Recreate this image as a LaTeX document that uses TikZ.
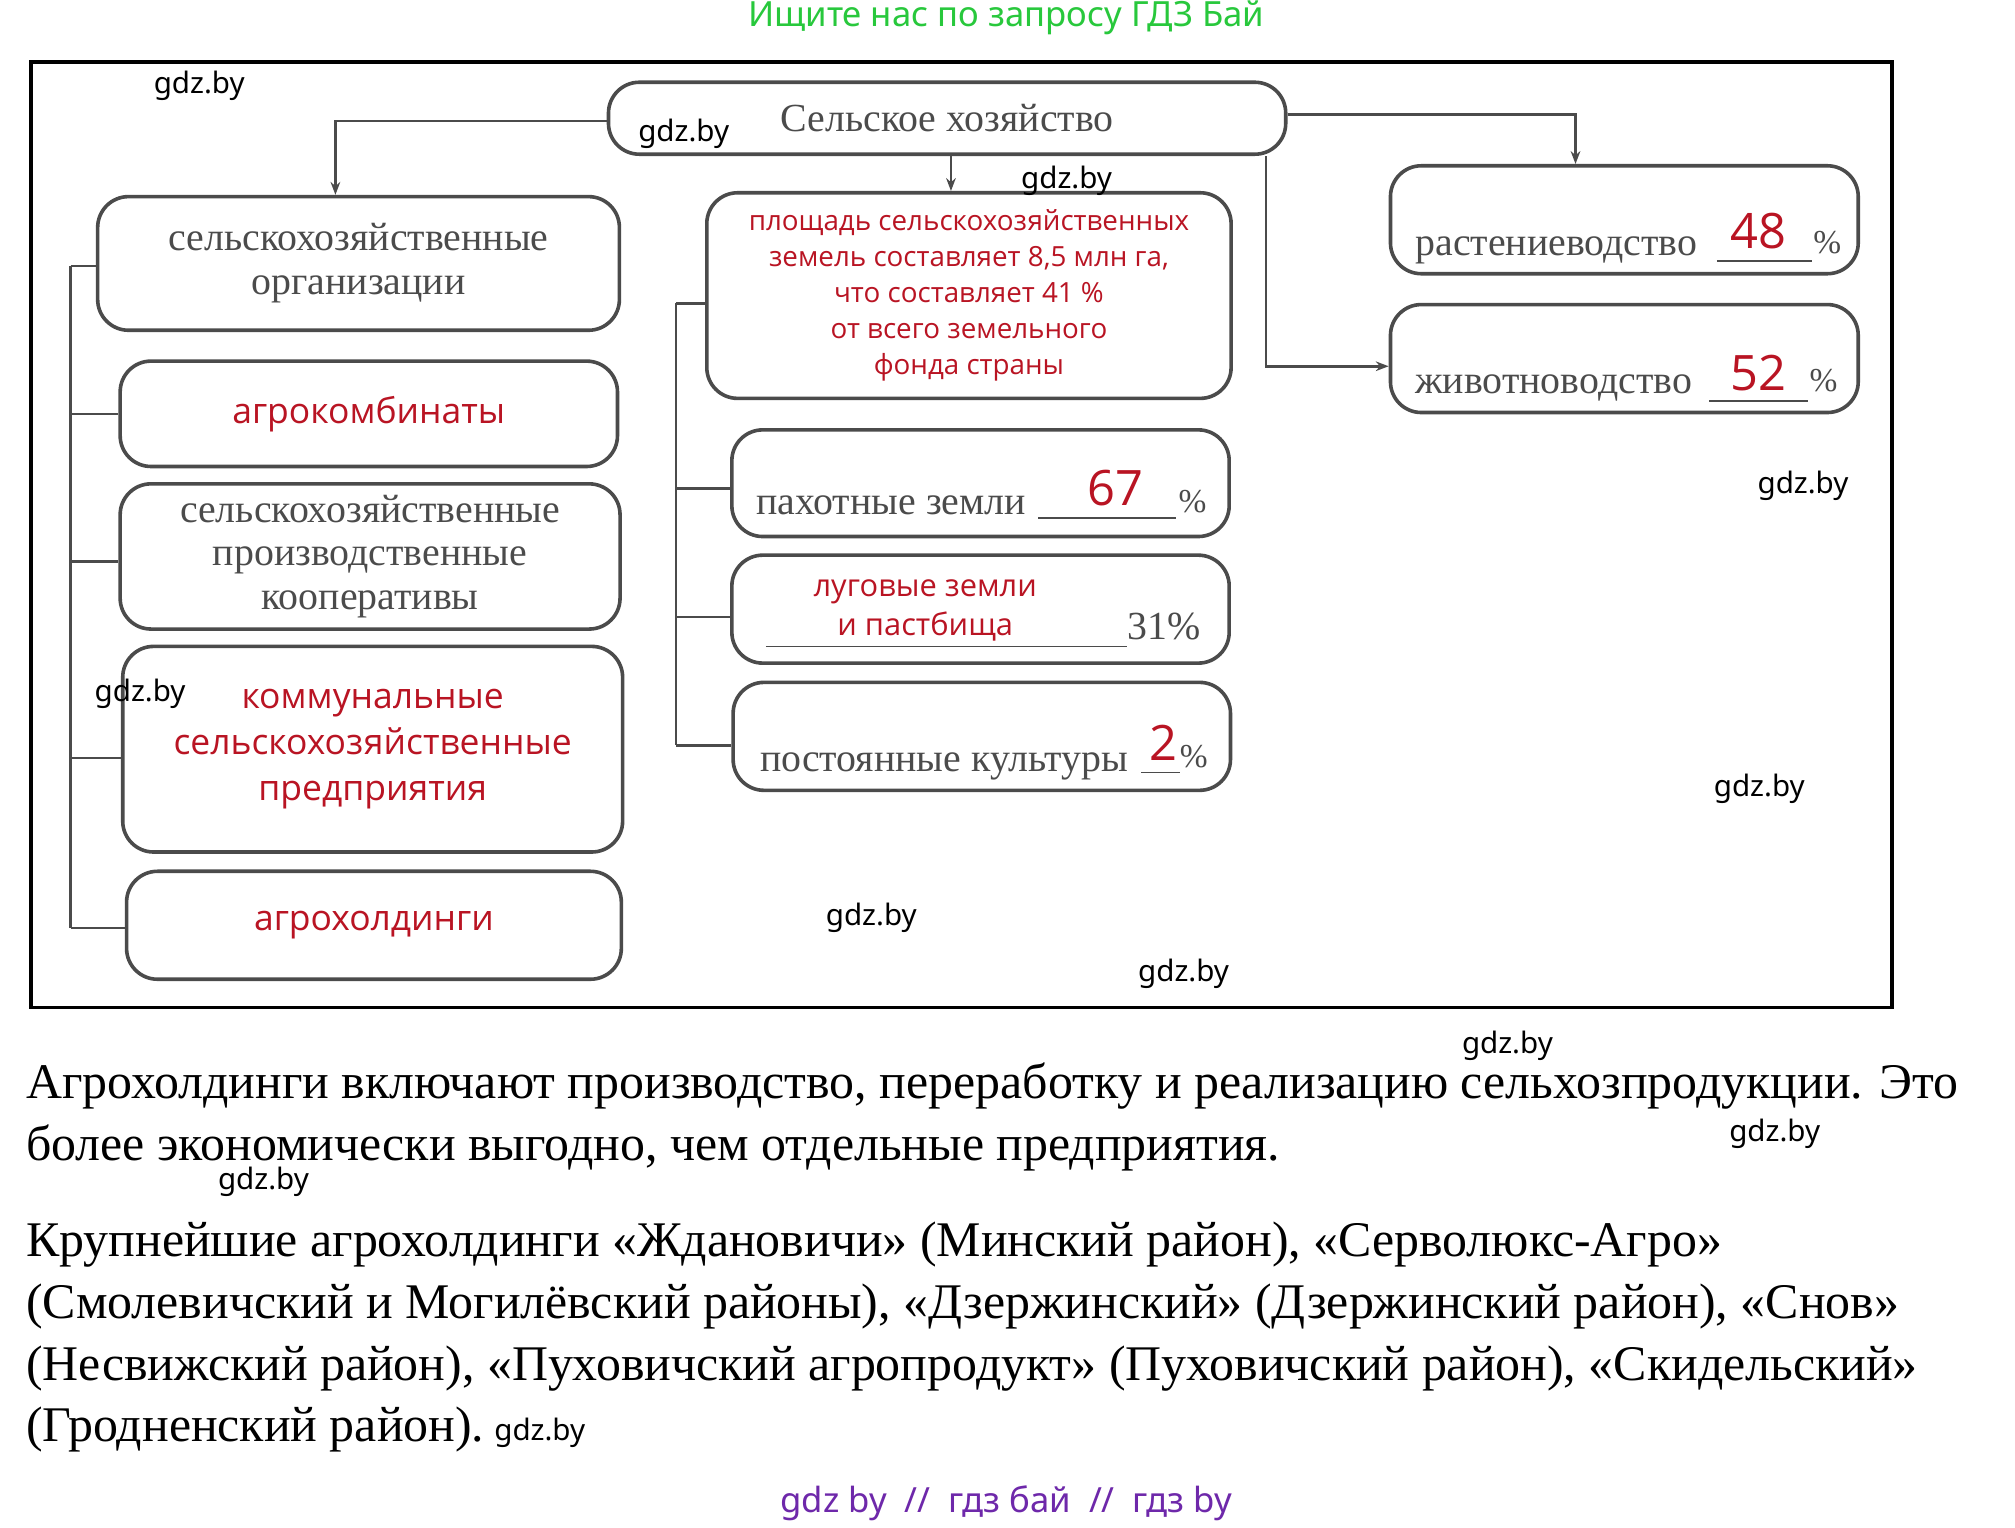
\documentclass[tikz,border=0pt]{standalone}
\usepackage{fontspec}
\setmainfont{Liberation Serif}
\newfontfamily\redsans{Open Sans}
\newfontfamily\wmsans{Noto Sans}
\usetikzlibrary{arrows.meta}
\definecolor{boxred}{RGB}{185,20,35}
\definecolor{boxgray}{RGB}{75,75,75}
\definecolor{wmgreen}{RGB}{40,200,60}
\definecolor{wmpurple}{RGB}{110,40,170}
\tikzset{
  box/.style={draw=boxgray, line width=1.4pt, rounded corners=12pt, inner sep=0pt},
  graytxt/.style={text=boxgray, font=\fontsize{15.5}{17}\selectfont, align=center},
  redtxt/.style={text=boxred, font=\redsans\fontsize{13.8}{18}\selectfont, align=center},
  num/.style={text=boxred, font=\redsans\fontsize{19}{20}\selectfont},
  pct/.style={text=boxgray, font=\fontsize{13}{14}\selectfont},
  link/.style={draw=boxgray, line width=1pt},
  wm/.style={font=\wmsans\fontsize{11.5}{12}\selectfont},
  body/.style={anchor=base west, inner sep=0pt, font=\fontsize{19.4}{22}\selectfont}
}
\begin{document}
\begin{tikzpicture}[x=0.5pt, y=-0.5pt]
\useasboundingbox (0,0) rectangle (1568,1189);
\fill[white] (0,0) rectangle (1568,1189);
\draw[line width=1.5pt] (24,48) rectangle (1472,784);

% top box
\node[box, minimum width=263.5pt, minimum height=28pt, graytxt] (top) at (737,92) {Сельское хозяйство};

% left column
\node[box, minimum width=203pt, minimum height=52pt, graytxt] (org) at (279,205) {сельскохозяйственные\\организации};
\node[box, minimum width=193.5pt, minimum height=41pt, redtxt] (akomb) at (287,322) {агрокомбинаты};
\node[box, minimum width=194.5pt, minimum height=56.5pt, graytxt] (coop) at (288,433) {сельскохозяйственные\\производственные\\кооперативы};
\node[box, minimum width=194.5pt, minimum height=80pt, redtxt] (komm) at (290,583) {коммунальные\\сельскохозяйственные\\предприятия};
\node[box, minimum width=192.5pt, minimum height=42pt, redtxt] (ahold) at (291,720) {агрохолдинги};

% middle column
\node[box, minimum width=204pt, minimum height=80pt, redtxt, font=\redsans\fontsize{10.8}{14}\selectfont] (area) at (754,230) {площадь сельскохозяйственных\\земель составляет 8,5 млн га,\\что составляет 41 \%\\от всего земельного\\фонда страны};
\node[box, minimum width=193.5pt, minimum height=41.5pt] (pash) at (763,376) {};
\node[box, minimum width=193.5pt, minimum height=42pt] (lug) at (763,474) {};
\node[box, minimum width=193.5pt, minimum height=42pt] (post) at (764,573) {};

% right column
\node[box, minimum width=182pt, minimum height=42pt] (rast) at (1264,171) {};
\node[box, minimum width=182pt, minimum height=42pt] (zhiv) at (1264,279) {};

% fill-in texts
\node[graytxt, anchor=base west, inner sep=0pt] (pashT) at (588,400) {пахотные земли};
\node[num] (pashN) at (868,380) {67};
\node[pct] (pashP) at (928,390) {\%};
\draw[boxgray, line width=0.6pt] (808,403) -- (915,403);

\node[redtxt, font=\redsans\fontsize{12}{15}\selectfont] (lugT) at (720,475) {луговые земли\\и пастбища};
\node[graytxt, anchor=base west, inner sep=0pt] (lugN) at (877,498) {31\%};
\draw[boxgray, line width=0.6pt] (596,503) -- (877,503);

\node[graytxt, anchor=base west, inner sep=0pt] (postT) at (591,600) {постоянные культуры};
\node[num] (postN) at (905,578) {2};
\node[pct] (postP) at (929,589) {\%};
\draw[boxgray, line width=0.6pt] (888,601) -- (918,601);

\node[graytxt, anchor=base west, inner sep=0pt] (rastT) at (1101,199) {растениеводство};
\node[num] (rastN) at (1368,180) {48};
\node[pct] (rastP) at (1422,189) {\%};
\draw[boxgray, line width=0.6pt] (1336,203) -- (1410,203);

\node[graytxt, anchor=base west, inner sep=0pt] (zhivT) at (1101,306) {животноводство};
\node[num] (zhivN) at (1368,290) {52};
\node[pct] (zhivP) at (1419,296) {\%};
\draw[boxgray, line width=0.6pt] (1330,312) -- (1407,312);

% connectors from top
\draw[link, -{Stealth[length=5pt]}] (top.west |- 0,94) -| (org.north -| 261,0);
\draw[link, -{Stealth[length=5pt]}] (top.south -| 740,0) -- (area.north -| 740,0);
\draw[link, -{Stealth[length=5pt]}] (top.east |- 0,89) -| (rast.north -| 1226,0);
\coordinate (zturn) at (985,285);
\draw[link, -{Stealth[length=5pt]}] (top.south -| 985,0) -- (zturn) -- (zhiv.west |- zturn);

% left bracket
\coordinate (lb1) at (55,207);
\coordinate (lb2) at (55,722);
\draw[link] (lb1) -- (lb2);
\draw[link] (lb1) -- (org.west |- lb1);
\draw[link] (55,322) -- (akomb.west);
\draw[link] (55,437) -- (coop.west |- 0,437);
\draw[link] (55,590) -- (komm.west |- 0,590);
\draw[link] (lb2) -- (ahold.west |- lb2);

% middle bracket
\coordinate (mb1) at (526,236);
\coordinate (mb2) at (526,580);
\draw[link] (mb1) -- (mb2);
\draw[link] (mb1) -- (area.west |- mb1);
\draw[link] (526,380) -- (pash.west |- 0,380);
\draw[link] (526,480) -- (lug.west |- 0,480);
\draw[link] (mb2) -- (post.west |- mb2);

% body text
\node[body] (t1) at (20,855) {Агрохолдинги включают производство, переработку и реализацию сельхозпродукции. Это};
\node[body] (t2) at (20,903) {более экономически выгодно, чем отдельные предприятия.};
\node[body] (t3) at (20,978) {Крупнейшие агрохолдинги «Ждановичи» (Минский район), «Серволюкс-Агро»};
\node[body] (t4) at (20,1026) {(Смолевичский и Могилёвский районы), «Дзержинский» (Дзержинский район), «Снов»};
\node[body] (t5) at (20,1074) {(Несвижский район), «Пуховичский агропродукт» (Пуховичский район), «Скидельский»};
\node[body] (t6) at (20,1122) {(Гродненский район).};

% watermarks
\node[wm, text=wmgreen, font=\wmsans\fontsize{13.5}{14}\selectfont] (head) at (783,14) {Ищите нас по запросу ГДЗ Бай};
\node[wm, text=wmpurple, font=\wmsans\fontsize{13.5}{14}\selectfont] (foot) at (783,1170) {gdz by \ // \ гдз бай \ // \ гдз by};
\foreach \wx/\wy in {155/67, 532/104, 830/141, 1403/378, 109/540, 1369/614, 678/714, 921/758, 1173/814, 1381/882, 205/920, 420/1115}
  \node[wm] at (\wx,\wy) {gdz.by};
\end{tikzpicture}
\end{document}
